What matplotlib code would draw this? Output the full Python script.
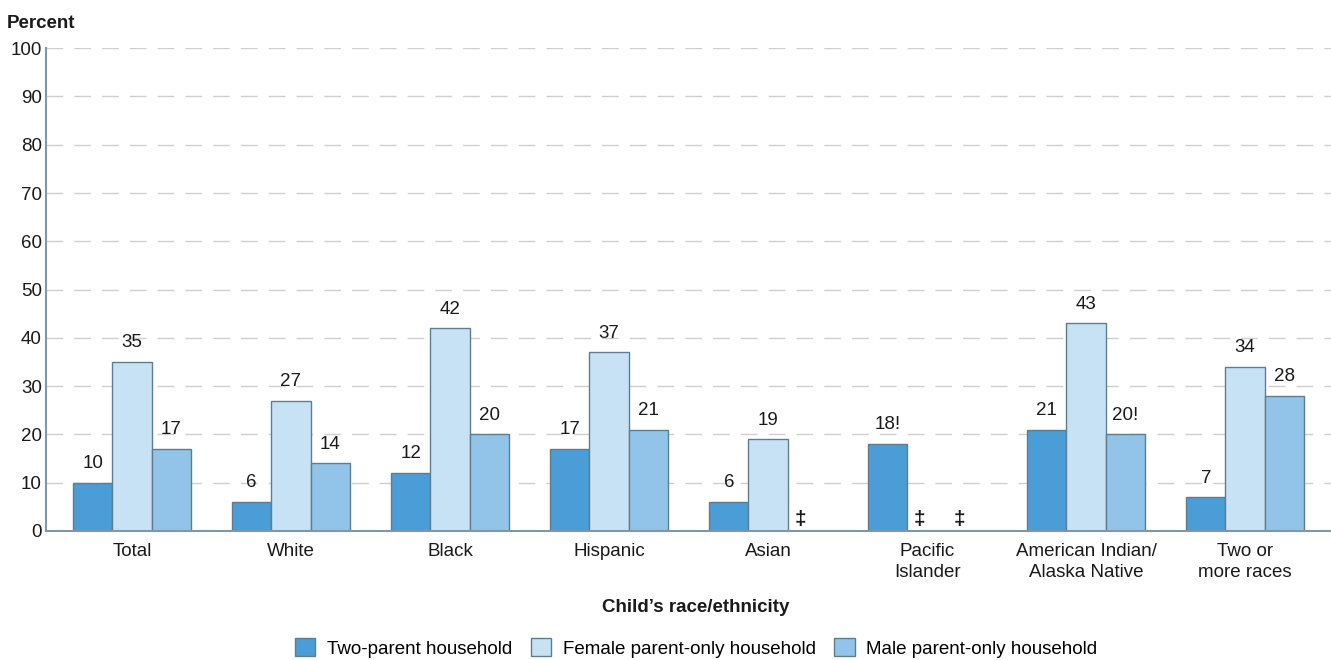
import matplotlib
matplotlib.use("Agg")
import matplotlib.pyplot as plt
import numpy as np
from matplotlib.patches import Patch

plt.rcParams['font.family'] = ['Liberation Sans', 'DejaVu Sans']

categories = ["Total", "White", "Black", "Hispanic", "Asian", "Pacific\nIslander",
              "American Indian/\nAlaska Native", "Two or\nmore races"]
series_names = ["Two-parent household", "Female parent-only household", "Male parent-only household"]
two_parent = [10, 6, 12, 17, 6, 18, 21, 7]
female_only = [35, 27, 42, 37, 19, None, 43, 34]
male_only = [17, 14, 20, 21, None, None, 20, 28]
flags = [
    ["", "", "", "", "", "!", "", ""],
    ["", "", "", "", "", "", "", ""],
    ["", "", "", "", "", "", "!", ""],
]

colors = ["#4a9dd6", "#c8e2f5", "#92c3e8"]
edge = "#5e7d8e"
text_color = "#1a1a1a"
fs = 13.5

fig = plt.figure(figsize=(13.31, 6.60), dpi=100)
ax = fig.add_axes([0.0346, 0.1955, 0.9654, 0.7315])

x = np.arange(len(categories))
w = 0.247
ax.set_ylim(0, 100)
ax.set_xlim(-0.54, len(categories) - 1 + 0.54)
ax.set_yticks(range(0, 101, 10))
ax.yaxis.grid(True, color="#cfcfcf", linestyle=(0, (12, 8)), linewidth=1.0)
ax.set_axisbelow(True)

for i, (vals, col) in enumerate(zip([two_parent, female_only, male_only], colors)):
    pos = x + (i - 1) * w
    for j, v in enumerate(vals):
        if v is None:
            # suppressed estimate
            ax.text(pos[j] - 0.045, 0.5, "\u2021", ha="center", va="bottom",
                    fontsize=15, fontweight="bold", color=text_color)
            continue
        ax.bar(pos[j], v, width=w, color=col, edgecolor=edge, linewidth=1.0, zorder=2)
        ax.text(pos[j], v + 2.2, f"{v}{flags[i][j]}", ha="center", va="bottom",
                fontsize=fs, color=text_color)

for s in ["top", "right"]:
    ax.spines[s].set_visible(False)
for s in ["left", "bottom"]:
    ax.spines[s].set_color("#7f97a8")
    ax.spines[s].set_linewidth(1.5)

ax.set_xticks(x)
ax.set_xticklabels(categories, fontsize=fs, color=text_color, linespacing=1.3)
ax.tick_params(axis="x", length=0, pad=9)
ax.tick_params(axis="y", length=0, pad=3, labelsize=13.5, labelcolor=text_color)

fig.text(0.005, 0.965, "Percent", fontsize=fs, fontweight="bold", ha="left", va="center",
         color=text_color)
fig.text(0.523, 0.079, "Child\u2019s race/ethnicity", fontsize=fs, fontweight="bold",
         ha="center", va="center", color=text_color)

handles = [Patch(facecolor=c, edgecolor=edge, linewidth=1.0) for c in colors]
fig.legend(handles, series_names, loc="center", bbox_to_anchor=(0.523, 0.018), ncol=3,
           frameon=False, fontsize=fs, handlelength=1.1, handleheight=1.1,
           columnspacing=1.0, handletextpad=0.6)

fig.savefig("out.png", dpi=100)
